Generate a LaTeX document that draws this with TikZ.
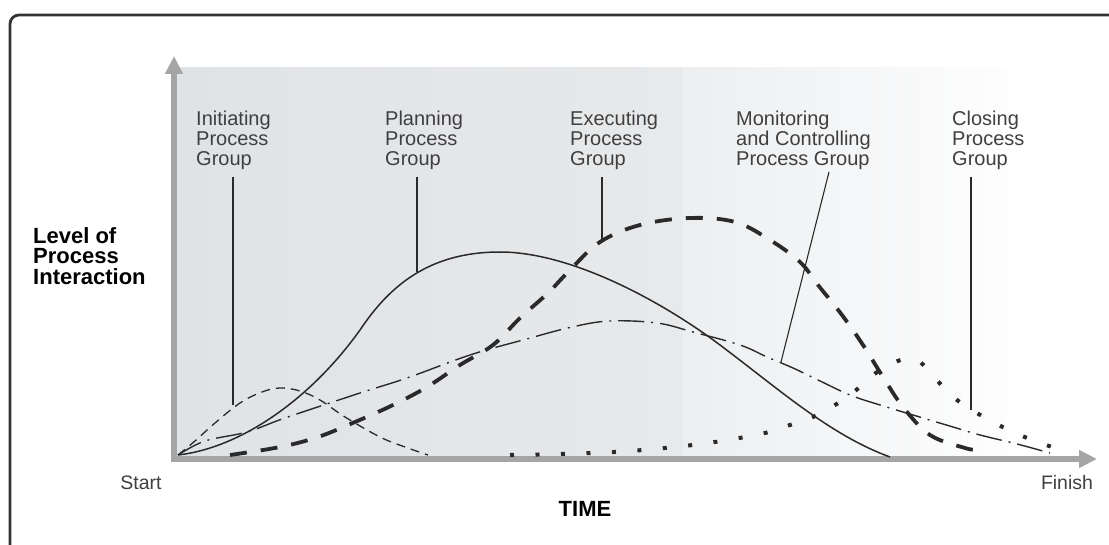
\documentclass[tikz,border=0pt]{standalone}
\usepackage{fontspec}
\setmainfont{Liberation Sans}
\usetikzlibrary{arrows.meta}
\definecolor{axisgray}{HTML}{A5A5A5}
\definecolor{bgL}{HTML}{E0E3E6}
\definecolor{bgM}{HTML}{E7E9EB}
\definecolor{bgR}{HTML}{ECEEF0}
\definecolor{ink}{HTML}{2A2A2A}
\definecolor{frameC}{HTML}{333333}
\begin{document}
\begin{tikzpicture}[x=1pt,y=-1pt,
  lbl/.style={font=\fontsize{20}{20}\selectfont, text=ink!90, align=left, anchor=north west, inner sep=0pt},
  axlbl/.style={font=\fontsize{19.5}{20}\selectfont, text=ink!90, inner sep=0pt},
  boldlbl/.style={font=\fontsize{22}{20.5}\selectfont\bfseries, text=black, align=left, anchor=north west, inner sep=0pt},
  leader/.style={draw=ink, line width=1.1pt},
  axisline/.style={draw=axisgray, line width=6pt, -{Triangle[length=18pt,width=17pt]}},
  initc/.style={draw=ink, line width=1.3pt, dash pattern=on 9pt off 6pt},
  planc/.style={draw=ink, line width=1.5pt},
  execc/.style={draw=ink, line width=3.8pt, dash pattern=on 17pt off 14pt},
  monc/.style={draw=ink, line width=1.4pt, dash pattern=on 26pt off 7pt on 2pt off 7pt},
  closc/.style={draw=ink, line width=4pt, dash pattern=on 4pt off 21.5pt}
]
\useasboundingbox (0,0) rectangle (1109,545);
\fill[white] (0,0) rectangle (1109,545);
% background plot area
\shade[left color=bgL, right color=bgM] (175,68) rectangle (683,459);
\shade[left color=bgR, right color=white] (683,68) rectangle (1035,459);
% frame
\draw[frameC, line width=2.8pt, rounded corners=9pt] (10,550) -- (10,15) -- (1115,15);
% axes
\draw[axisline] (172,459) -- (1097,459);
\draw[axisline] (174,462) -- (174,56);
% labels
\node[lbl] (lInit) at (196,111) {Initiating\\Process\\Group};
\node[lbl] (lPlan) at (385,111) {Planning\\Process\\Group};
\node[lbl] (lExec) at (570,111) {Executing\\Process\\Group};
\node[lbl] (lMon) at (736,111) {Monitoring\\and Controlling\\Process Group};
\node[lbl] (lClos) at (952,111) {Closing\\Process\\Group};
\node[boldlbl] (lLevel) at (33,227) {Level of\\Process\\Interaction};
\node[axlbl] (lStart) at (141,483) {Start};
\node[axlbl] (lFinish) at (1067,483) {Finish};
\node[font=\fontsize{22}{22}\selectfont\bfseries, text=black, inner sep=0pt] (lTime) at (585,509) {TIME};
% curves
\draw[initc] plot[smooth, tension=0.6] coordinates {(178,455) (195,441) (215,423) (240,403) (262,392) (280,388) (300,391) (320,400) (345,417) (380,437) (405,447) (428,455)};
\draw[planc] (178,455) .. controls (240,448) and (310,400) .. (360,330)
  .. controls (390,285) and (430,252) .. (500,252)
  .. controls (570,252) and (660,300) .. (720,345)
  .. controls (780,390) and (830,435) .. (890,457);
\draw[execc] plot[smooth, tension=0.6] coordinates {(230,455) (280,447) (318,437) (355,422) (393,405) (427,387) (460,365) (493,345) (520,318) (548,293) (570,270) (600,242) (640,225) (690,218) (735,222) (770,240) (800,262) (818,285) (842,315) (863,345) (883,377) (903,407) (930,435) (965,448) (978,450)};
\draw[monc] plot[smooth, tension=0.6] coordinates {(178,455) (205,441) (247,432) (285,418) (360,393) (407,378) (470,355) (523,340) (572,327) (610,321) (657,323) (693,332) (740,345) (767,357) (793,368) (818,380) (850,395) (880,405) (913,415) (953,427) (980,435) (1017,444) (1050,453)};
\draw[closc] plot[smooth, tension=0.6] coordinates {(510,455) (560,454) (614,452) (665,448) (715,442) (765,433) (790,425) (813,417) (835,405) (855,391) (873,375) (893,363) (907,359) (920,362) (935,378) (952,396) (972,410) (993,422) (1015,433) (1038,442) (1066,452)};
% leader lines
\coordinate (iTop) at (233,177); \coordinate (iBot) at (233,405);
\coordinate (pTop) at (417,177); \coordinate (pBot) at (417,272);
\coordinate (eTop) at (602,177); \coordinate (eBot) at (602,242);
\coordinate (mTop) at (829,172); \coordinate (mBot) at (781,362);
\coordinate (cTop) at (971,177); \coordinate (cBot) at (971,410);
\draw[leader] (iTop) -- (iBot);
\draw[leader] (pTop) -- (pBot);
\draw[leader] (eTop) -- (eBot);
\draw[leader] (mTop) -- (mBot);
\draw[leader] (cTop) -- (cBot);
\end{tikzpicture}
\end{document}
